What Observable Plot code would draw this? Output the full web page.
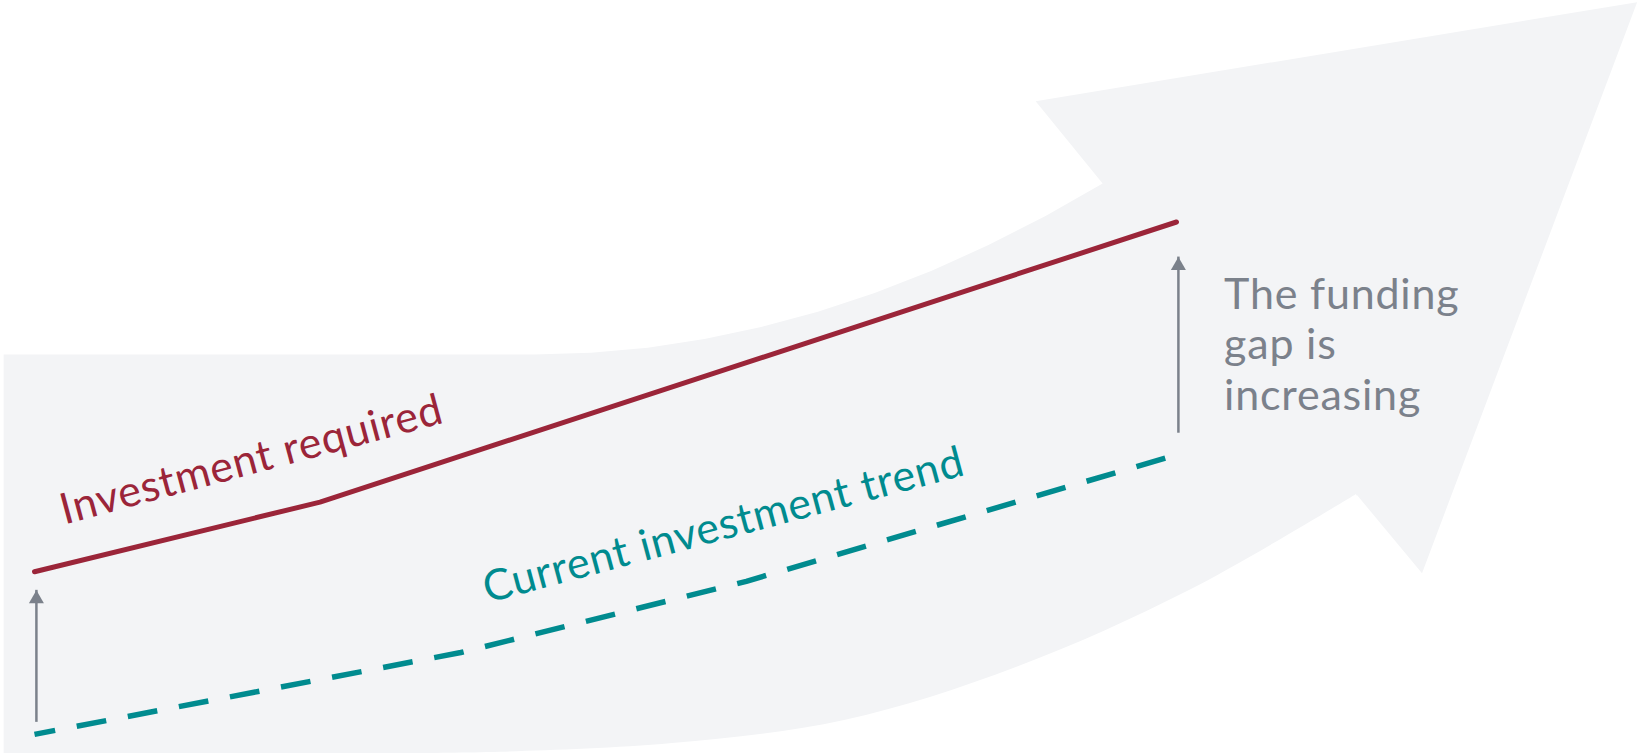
<!DOCTYPE html>
<html>
<head>
<meta charset="utf-8">
<script src="https://cdn.jsdelivr.net/npm/d3@7"></script>
<script src="https://cdn.jsdelivr.net/npm/@observablehq/plot@0.6"></script>
<style>
  html, body { margin: 0; padding: 0; background: #ffffff; }
  #chart svg { display: block; max-width: none; }
  #chart svg text { letter-spacing: 0.8px; }
</style>
</head>
<body>
<div id="chart"></div>
<script>
// ---- Data (x = year, y = investment index) ----
const requiredYears  = [2020, 2027.5, 2050];
const requiredValues = [34.2, 47.3, 100];

const trendYears  = [2020, 2031.2, 2038.7, 2050];
const trendValues = [3.6, 19.0, 32.4, 56.2];

// funding-gap arrows (from current trend up towards required)
const gapYears = [2020.05, 2050.05];
const gapFrom  = [6.8, 61.2];
const gapTo    = [30.7, 93.4];

// series labels
const labelTexts  = ["Investment required", "Current investment trend"];
const labelYears  = [2025.7, 2038.1];
const labelValues = [55.2, 42.9];
const labelKeys   = ["required", "trend"];

const noteText  = "The funding\ngap is\nincreasing";
const noteYear  = 2051.25;
const noteValue = 90.5;

// decorative background arrow: outline (upper edge + head) ...
const arrowYears = [2019.19, 2019.19, 2033.13, 2034.62, 2036.11, 2037.60, 2039.09, 2040.58, 2042.07, 2043.57, 2045.06, 2046.56, 2048.06,
  2046.30, 2062.10, 2056.45, 2054.73, 2052.73];
const arrowValues = [0, 75.07, 75.07, 75.39, 76.35, 77.97, 80.23, 83.11, 86.66, 90.84, 95.65, 101.13, 107.24,
  122.73, 141.35, 33.92, 48.73, 0];
// ... and its curved lower edge (white below it)
const lowerYears  = [2030.14, 2032.24, 2036.76, 2041.28, 2045.81, 2050.34, 2054.73];
const lowerValues = [0, 0.24, 1.88, 6.21, 16.24, 30.67, 48.73];

// ---- Styles ----
const colors = { required: "#9b2539", trend: "#008b8f", gap: "#7b818b", bg: "#f3f4f6" };
const FONT = "Lato, 'Open Sans', sans-serif";
const FS = 43;

const required = requiredYears.map((x, i) => ({ x, y: requiredValues[i] }));
const trend = trendYears.map((x, i) => ({ x, y: trendValues[i] }));
const gaps = gapYears.map((x, i) => ({ x, y1: gapFrom[i], y2: gapTo[i] }));
const labels = labelTexts.map((t, i) => ({ text: t, x: labelYears[i], y: labelValues[i], key: labelKeys[i] }));
const arrow = arrowYears.map((x, i) => ({ x, y: arrowValues[i] }));
const lower = lowerYears.map((x, i) => ({ x, y: lowerValues[i] }));

const chart = Plot.plot({
  width: 1638,
  height: 753,
  marginLeft: 34,
  marginRight: 462,
  marginTop: 221.5,
  marginBottom: 0,
  style: { background: "#ffffff", fontFamily: FONT },
  x: { domain: [2020, 2050], axis: null },
  y: { domain: [0, 100], axis: null },
  marks: [
    Plot.line(arrow, { x: "x", y: "y", fill: colors.bg, stroke: "none", curve: "linear" }),
    Plot.areaY(lower, { x: "x", y1: 0, y2: "y", fill: "#ffffff", curve: "catmull-rom" }),
    Plot.line(required, { x: "x", y: "y", stroke: colors.required, strokeWidth: 5, strokeLinecap: "round", strokeLinejoin: "round" }),
    Plot.line(trend, { x: "x", y: "y", stroke: colors.trend, strokeWidth: 5.5, strokeDasharray: "30,22", strokeDashoffset: 9, strokeLinecap: "butt" }),
    Plot.ruleX(gaps, { x: "x", y1: "y1", y2: "y2", stroke: colors.gap, strokeWidth: 2.5, insetTop: 5 }),
    Plot.dot(gaps, { x: "x", y: "y2", symbol: "triangle", r: 5.57, fill: colors.gap, stroke: "none", dy: 8.66 }),
    Plot.text(labels, { x: "x", y: "y", text: "text", rotate: -15, fontSize: FS, fontFamily: FONT,
      fill: d => colors[d.key], textAnchor: "middle", lineAnchor: "middle" }),
    Plot.text([noteText], { x: () => noteYear, y: () => noteValue, text: d => d, fontSize: FS, fontFamily: FONT,
      fill: colors.gap, textAnchor: "start", lineAnchor: "top", lineHeight: 1.18 })
  ]
});
document.getElementById("chart").appendChild(chart);
</script>
</body>
</html>
